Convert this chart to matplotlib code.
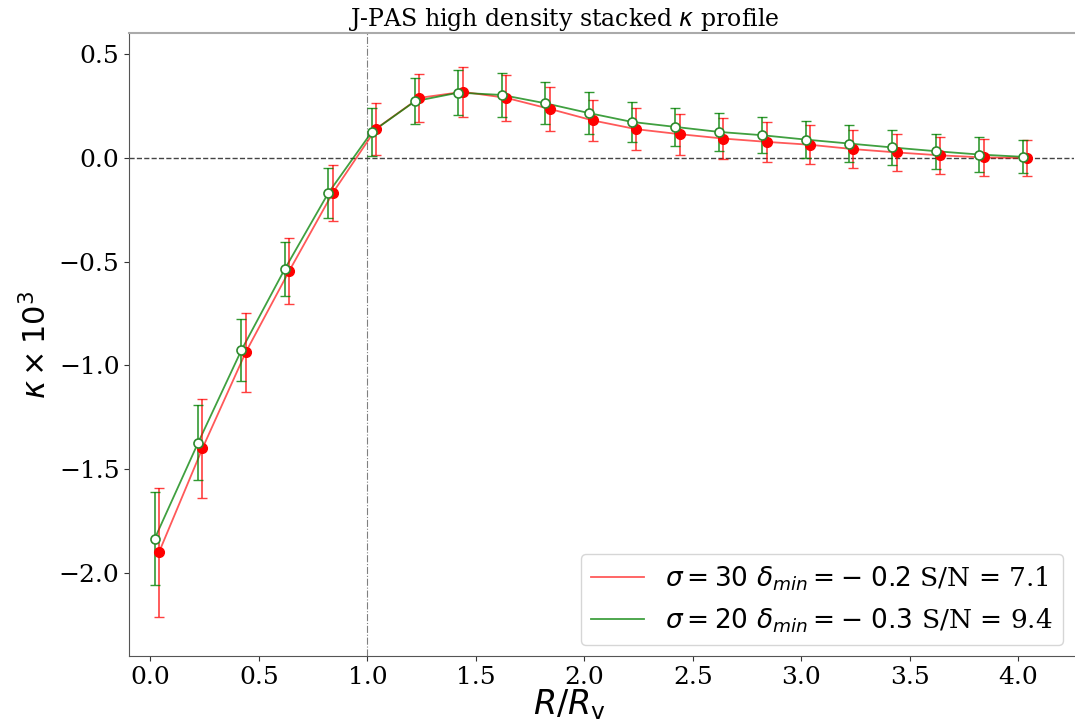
import matplotlib.pyplot as plt

# Datos
r_rojo = [0.04, 0.24, 0.44, 0.64, 0.84, 1.04, 1.24, 1.44, 1.64, 1.84, 2.04,
          2.24, 2.44, 2.64, 2.84, 3.04, 3.24, 3.44, 3.64, 3.84, 4.04]
k_rojo = [-1.90, -1.40, -0.936, -0.545, -0.17, 0.14, 0.289, 0.318, 0.289, 0.236, 0.18,
          0.138, 0.114, 0.093, 0.077, 0.063, 0.042, 0.026, 0.012, 0.002, 0.0]
e_rojo = [0.31, 0.24, 0.19, 0.157, 0.136, 0.126, 0.115, 0.12, 0.112, 0.107, 0.10,
          0.10, 0.098, 0.097, 0.097, 0.093, 0.092, 0.088, 0.088, 0.088, 0.087]

r_verde = [0.02, 0.22, 0.42, 0.62, 0.82, 1.02, 1.22, 1.42, 1.62, 1.82, 2.02,
           2.22, 2.42, 2.62, 2.82, 3.02, 3.22, 3.42, 3.62, 3.82, 4.02]
k_verde = [-1.835, -1.373, -0.926, -0.535, -0.17, 0.124, 0.273, 0.314, 0.303, 0.263, 0.216,
           0.173, 0.149, 0.125, 0.109, 0.088, 0.069, 0.05, 0.032, 0.016, 0.005]
e_verde = [0.225, 0.18, 0.15, 0.13, 0.12, 0.117, 0.11, 0.107, 0.106, 0.10, 0.10,
           0.095, 0.093, 0.09, 0.088, 0.088, 0.088, 0.084, 0.085, 0.084, 0.08]

etiqueta_rojo = r'$\sigma=30$ $\delta_{min}=-\ 0.2$ S/N = 7.1'
etiqueta_verde = r'$\sigma=20$ $\delta_{min}=-\ 0.3$ S/N = 9.4'

plt.rcParams['font.family'] = 'DejaVu Serif'
plt.rcParams['mathtext.fontset'] = 'dejavusans'

fig = plt.figure(figsize=(10.75, 7.25), dpi=100)
ax = fig.add_axes([129.3 / 1075, 69 / 725, (1074 - 129.3) / 1075, (656 - 33.3) / 725])

ax.axvline(1.0, color='gray', linestyle='-.', linewidth=0.8)
ax.axhline(0.0, color='#444444', linestyle='--', linewidth=1.0)

# lineas (las del legend)
ax.plot(r_rojo, k_rojo, color='red', alpha=0.65, linewidth=1.3, label=etiqueta_rojo)
ax.plot(r_verde, k_verde, color='green', alpha=0.75, linewidth=1.3, label=etiqueta_verde)

# barras de error
ax.errorbar(r_rojo, k_rojo, yerr=e_rojo, fmt='none', ecolor='red',
            elinewidth=1.2, capsize=3.5, alpha=0.75)
ax.errorbar(r_verde, k_verde, yerr=e_verde, fmt='none', ecolor='green',
            elinewidth=1.2, capsize=3.5, alpha=0.8)

# puntos
ax.plot(r_rojo, k_rojo, 'o', color='red', markersize=7, zorder=4)
ax.plot(r_verde, k_verde, 'o', markersize=6.5, markerfacecolor='white',
        markeredgecolor='#2e8b2e', markeredgewidth=1.2, zorder=5)

ax.set_xlim(-0.097, 4.257)
ax.set_ylim(-2.4, 0.6)
ax.set_xticks([0.0, 0.5, 1.0, 1.5, 2.0, 2.5, 3.0, 3.5, 4.0])
ax.set_yticks([-2.0, -1.5, -1.0, -0.5, 0.0, 0.5])
ax.tick_params(labelsize=18, colors='#333333', labelcolor='black')

for lado in ['left', 'bottom']:
    ax.spines[lado].set_color('#555555')
ax.spines['top'].set_color('#aaaaaa')
ax.spines['top'].set_linewidth(1.5)
ax.spines['right'].set_visible(False)

ax.set_xlabel(r'$R/R_\mathrm{v}$', fontsize=24)
ax.xaxis.set_label_coords(0.466, -0.05)
ax.set_ylabel(r'$\kappa\times10^3$', fontsize=22)
ax.set_title(r'J-PAS high density stacked $\kappa$ profile', fontsize=17, x=0.46, pad=4)

ax.legend(loc='lower right', fontsize=19, handlelength=2.0, borderaxespad=0.4)

fig.savefig('out.png', dpi=100)
